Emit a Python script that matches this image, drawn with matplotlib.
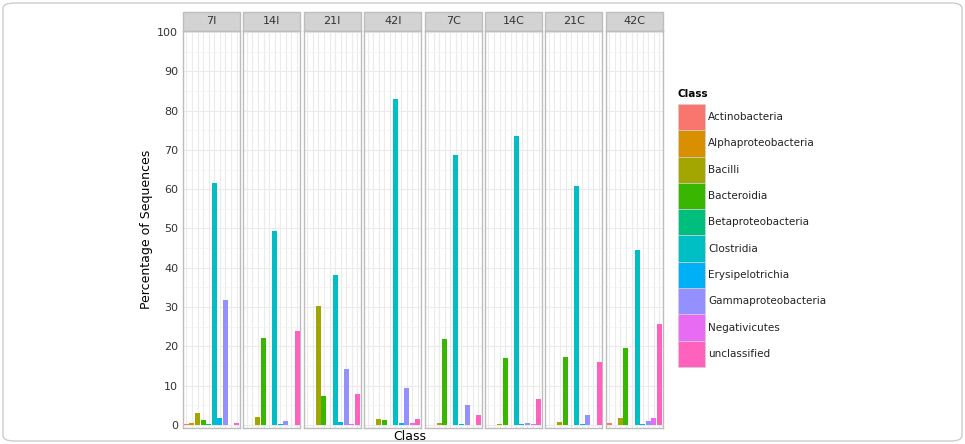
import matplotlib
matplotlib.use("Agg")
import matplotlib.pyplot as plt
from matplotlib.patches import Rectangle, FancyBboxPatch

# data
samples = ['7I', '14I', '21I', '42I', '7C', '14C', '21C', '42C']
classes = ['Actinobacteria', 'Alphaproteobacteria', 'Bacilli', 'Bacteroidia',
           'Betaproteobacteria', 'Clostridia', 'Erysipelotrichia',
           'Gammaproteobacteria', 'Negativicutes', 'unclassified']
colors = ['#F8766D', '#D89000', '#A3A500', '#39B600', '#00BF7D',
          '#00BFC4', '#00B0F6', '#9590FF', '#E76BF3', '#FF62BC']

v_7I = [0.3, 0.4, 3.0, 1.2, 0.2, 61.7, 1.8, 31.7, 0.1, 0.4]
v_14I = [0.0, 0.1, 2.0, 22.2, 0.1, 49.3, 0.3, 1.0, 0.0, 24.0]
v_21I = [0.0, 0.1, 30.2, 7.3, 0.0, 38.2, 0.7, 14.3, 0.3, 7.9]
v_42I = [0.0, 0.1, 1.5, 1.2, 0.0, 82.9, 0.5, 9.4, 0.5, 1.5]
v_7C = [0.0, 0.1, 0.5, 21.9, 0.0, 68.6, 0.2, 5.0, 0.0, 2.5]
v_14C = [0.0, 0.1, 0.3, 17.0, 0.0, 73.5, 0.2, 0.6, 0.2, 6.7]
v_21C = [0.0, 0.0, 0.8, 17.2, 0.0, 60.7, 0.2, 2.5, 0.1, 16.0]
v_42C = [0.4, 0.1, 1.8, 19.7, 0.0, 44.5, 0.3, 0.9, 1.8, 25.8]
values = [v_7I, v_14I, v_21I, v_42I, v_7C, v_14C, v_21C, v_42C]

W, H = 965, 444
fig = plt.figure(figsize=(W / 100, H / 100), dpi=100)

# rounded frame round the whole picture
fig.patches.append(FancyBboxPatch((3 / W, 3 / H), 1 - 6 / W, 1 - 6 / H,
                                  boxstyle='round,pad=0,rounding_size=0.012',
                                  transform=fig.transFigure, fill=False,
                                  edgecolor='#cccccc', linewidth=1))

left0 = 183
pw = 57
step = 60.4
bottom = 1 - 428 / H
top = 1 - 31 / H
x = list(range(len(classes)))

axes = []
for i, (s, vals) in enumerate(zip(samples, values)):
    ax = fig.add_axes([(left0 + i * step) / W, bottom, pw / W, top - bottom])
    ax.bar(x, vals, width=0.9, color=colors, zorder=3)
    ax.set_xlim(-0.6, 9.6)
    ax.set_ylim(-0.76, 100.25)
    ax.set_xticks(x)
    ax.set_xticklabels([])
    ax.set_yticks(range(0, 101, 10))
    ax.set_yticks(range(5, 100, 10), minor=True)
    ax.grid(True, which='major', color='#ebebeb', linewidth=0.8, zorder=0)
    ax.grid(True, which='minor', axis='y', color='#f2f2f2', linewidth=0.5, zorder=0)
    ax.tick_params(axis='x', length=0)
    ax.tick_params(axis='y', which='both', length=0, labelsize=8, colors='#333333')
    if i > 0:
        ax.set_yticklabels([])
    for sp in ax.spines.values():
        sp.set_color('#bdbdbd')
        sp.set_linewidth(1)
    # facet strip
    ax.add_patch(Rectangle((0, 1.0), 1, 19 / 397, transform=ax.transAxes,
                           facecolor='#d3d3d3', edgecolor='#bdbdbd',
                           linewidth=1, clip_on=False))
    ax.text(0.5, 1.0 + 9.5 / 397, s, transform=ax.transAxes, ha='center',
            va='center', fontsize=8, color='#333333')
    axes.append(ax)

axes[0].set_ylabel('Percentage of Sequences', fontsize=9, labelpad=3)
fig.text(410 / W, 1 - 436 / H, 'Class', ha='center', va='center', fontsize=9)

# legend
fig.text(678 / W, 1 - 94 / H, 'Class', fontsize=7.5, fontweight='bold',
         va='center', ha='left')
ky = 104
kh = 26.3
for j, (c, col) in enumerate(zip(classes, colors)):
    y0 = ky + j * kh
    fig.patches.append(Rectangle((678 / W, 1 - (y0 + kh) / H), 27 / W, kh / H,
                                 transform=fig.transFigure, facecolor=col,
                                 edgecolor='#d0d0d0', linewidth=0.5))
    fig.text(708 / W, 1 - (y0 + kh / 2) / H, c, fontsize=7.5, va='center',
             ha='left', color='#222222')

fig.savefig('out.png', dpi=100)
